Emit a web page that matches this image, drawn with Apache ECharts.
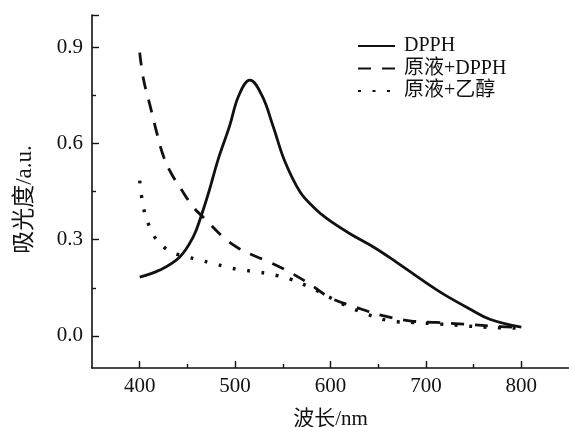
<!DOCTYPE html>
<html>
<head>
<meta charset="utf-8">
<script src="https://cdn.jsdelivr.net/npm/echarts@6/dist/echarts.min.js"></script>
<style>
    html, body { margin: 0; padding: 0; background: #fff; }
    #chart { width: 569px; height: 427px; }
</style>
</head>
<body>
<div id="chart"></div>
<script>
var seriesNames = ['DPPH', '原液+DPPH', '原液+乙醇']

// DPPH
var dpphX = [400, 421, 442, 456, 464, 473, 482, 494, 504, 515.5, 528, 540, 552, 568, 582, 596, 620, 645, 669, 697, 718, 746, 767, 800]
var dpphY = [0.183, 0.205, 0.246, 0.308, 0.370, 0.454, 0.548, 0.652, 0.750, 0.797, 0.750, 0.652, 0.545, 0.449, 0.402, 0.366, 0.319, 0.277, 0.230, 0.172, 0.131, 0.084, 0.052, 0.027]

// 原液+DPPH
var mixX = [400, 404, 411, 418, 425, 433, 444, 456, 470, 487.5, 501.5, 515, 536, 557, 578, 599, 627, 655, 683, 711, 739, 767, 800]
var mixY = [0.883, 0.800, 0.716, 0.632, 0.559, 0.507, 0.455, 0.402, 0.360, 0.308, 0.277, 0.256, 0.230, 0.199, 0.162, 0.120, 0.089, 0.063, 0.047, 0.042, 0.037, 0.031, 0.026]

// 原液+乙醇
var ethX = [400, 402, 405.5, 411, 419.5, 433, 449, 463, 478, 493, 508.5, 524, 536, 557, 578, 596, 613, 638, 662, 686.5, 714, 742, 770, 800]
var ethY = [0.484, 0.434, 0.381, 0.336, 0.293, 0.262, 0.247, 0.236, 0.225, 0.213, 0.205, 0.199, 0.193, 0.178, 0.152, 0.125, 0.099, 0.068, 0.047, 0.042, 0.037, 0.031, 0.026, 0.024]

var xLabels = [400, 500, 600, 700, 800]
var xMinor = [450, 550, 650, 750]
var yLabelValues = [0, 0.3, 0.6, 0.9]
var yLabels = ['0.0', '0.3', '0.6', '0.9']
var yTicks = [0, 0.3, 0.6, 0.9, 1.0]
var yMinor = [0.15, 0.45, 0.75]

var font = "'Liberation Serif', 'Noto Sans CJK SC', serif"
var ink = '#111'

var pairs = (xs, ys) => {
    var list = []
    for (var i = 0; i < xs.length; i++) {
        list.push([xs[i], ys[i]])
    }
    return list
}

var makeLine = (name, data, type, width) => {
    return {
        name: name,
        type: 'line',
        data: data,
        symbol: 'none',
        smooth: 0.4,
        lineStyle: {
            color: ink,
            width: width,
            type: type,
        },
        itemStyle: { color: ink },
    }
}

var minorAxis = (min, max, position, ticks) => {
    return {
        type: 'value',
        min: min,
        max: max,
        position: position,
        axisLine: { show: false, onZero: false },
        axisTick: { show: true, inside: true, length: 4, customValues: ticks, lineStyle: { color: ink, width: 1.4 } },
        axisLabel: { show: false },
        splitLine: { show: false },
    }
}

var __main = () => {
    var element = document.querySelector('#chart')
    var myChart = echarts.init(element, null, { renderer: 'canvas' })

    var option = {
        animation: false,
        backgroundColor: '#fff',
        grid: {
            left: 92,
            top: 15,
            right: 0,
            bottom: 59,
            containLabel: false,
            outerBoundsMode: 'none',
        },
        legend: {
            orient: 'vertical',
            left: 357,
            top: 35,
            padding: 0,
            itemWidth: 37,
            itemHeight: 14,
            itemGap: 0.5,
            itemStyle: { opacity: 0 },
            textStyle: {
                fontFamily: font,
                fontSize: 20,
                color: ink,
                lineHeight: 22,
                padding: [0, 0, 0, 4],
            },
            data: seriesNames,
        },
        xAxis: [
            {
                type: 'value',
                min: 350,
                max: 850,
                name: '波长/nm',
                nameLocation: 'middle',
                nameGap: 41,
                nameTextStyle: { fontFamily: font, fontSize: 21, color: ink },
                axisLine: { show: true, onZero: false, lineStyle: { color: ink, width: 1.6 } },
                axisTick: { show: true, inside: true, length: 7, customValues: xLabels, lineStyle: { color: ink, width: 1.4 } },
                axisLabel: { fontFamily: font, fontSize: 21, color: ink, margin: 8, customValues: xLabels },
                splitLine: { show: false },
            },
            minorAxis(350, 850, 'bottom', xMinor),
        ],
        yAxis: [
            {
                type: 'value',
                min: -0.1,
                max: 1.0,
                name: '吸光度/a.u.',
                nameLocation: 'middle',
                nameGap: 56,
                nameTextStyle: { fontFamily: font, fontSize: 23, color: ink, padding: [0, 16, 0, 0] },
                axisLine: { show: true, onZero: false, lineStyle: { color: ink, width: 1.6 } },
                axisTick: { show: true, inside: true, length: 7, customValues: yTicks, lineStyle: { color: ink, width: 1.4 } },
                axisLabel: {
                    fontFamily: font,
                    fontSize: 21,
                    color: ink,
                    margin: 9,
                    customValues: yLabelValues,
                    formatter: (v) => {
                        var i = yLabelValues.indexOf(Math.round(v * 100) / 100)
                        return i >= 0 ? yLabels[i] : ''
                    },
                },
                splitLine: { show: false },
            },
            minorAxis(-0.1, 1.0, 'left', yMinor),
        ],
        series: [
            makeLine(seriesNames[0], pairs(dpphX, dpphY), 'solid', 2.8),
            makeLine(seriesNames[1], pairs(mixX, mixY), [13, 11], 2.8),
            makeLine(seriesNames[2], pairs(ethX, ethY), [3, 11.5], 3.4),
        ],
    }

    myChart.setOption(option)
}

__main()
</script>
</body>
</html>
